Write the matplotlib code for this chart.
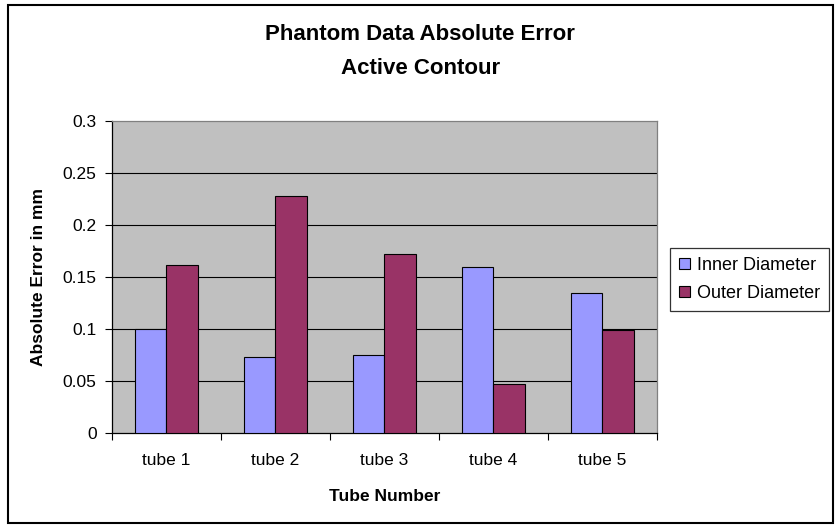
import matplotlib
matplotlib.use("Agg")
import matplotlib.pyplot as plt
import numpy as np
from matplotlib.patches import Rectangle

categories = ["tube 1", "tube 2", "tube 3", "tube 4", "tube 5"]
inner_diameter = [0.100, 0.073, 0.075, 0.160, 0.135]
outer_diameter = [0.162, 0.228, 0.172, 0.047, 0.099]
y_ticks = [0, 0.05, 0.1, 0.15, 0.2, 0.25, 0.3]

plt.rcParams["font.family"] = ["Liberation Sans", "DejaVu Sans"]

fig = plt.figure(figsize=(8.37, 5.25), dpi=100)
ax = fig.add_axes([112 / 837, 1 - 433.3 / 525, 545 / 837, 312.3 / 525])
ax.set_facecolor("#C0C0C0")

# Excel-style clustered bars, gap width 150%
n = len(categories)
centers = np.arange(n) + 0.5
w = 1 / 3.5
ax.bar(centers - w / 2, inner_diameter, width=w, color="#9999FF",
       edgecolor="black", linewidth=0.8, label="Inner Diameter", zorder=3)
ax.bar(centers + w / 2, outer_diameter, width=w, color="#993366",
       edgecolor="black", linewidth=0.8, label="Outer Diameter", zorder=3)

ax.set_xlim(0, n)
ax.set_ylim(0, 0.3)
ax.set_yticks(y_ticks)
ax.set_yticklabels([f"{v:g}" for v in y_ticks])
for v in y_ticks[1:-1]:
    ax.axhline(v, color="black", linewidth=0.8, zorder=1)

# tick marks on category boundaries, labels at centers
ax.set_xticks(np.arange(n + 1))
ax.set_xticklabels([])
ax.set_xticks(centers, minor=True)
ax.set_xticklabels(categories, minor=True)
ax.tick_params(axis="x", which="major", direction="out", length=5, width=0.8)
ax.tick_params(axis="x", which="minor", length=0, labelsize=12.5, pad=14)
ax.tick_params(axis="y", direction="out", length=5, width=0.8, labelsize=12.5, pad=6)

for s in ["left", "bottom"]:
    ax.spines[s].set_color("black")
    ax.spines[s].set_linewidth(0.9)
for s in ["top", "right"]:
    ax.spines[s].set_color("#808080")
    ax.spines[s].set_linewidth(0.9)

ax.set_xlabel("Tube Number", fontsize=12.5, fontweight="bold", labelpad=15)
ax.set_ylabel("Absolute Error in mm", fontsize=12.5, fontweight="bold", labelpad=12)

fig.text(0.502, 1 - 51.5 / 525, "Phantom Data Absolute Error\nActive Contour",
         ha="center", va="center", fontsize=16, fontweight="bold", linespacing=1.8)

leg = fig.legend(loc="upper left", bbox_to_anchor=(670 / 837, 1 - 248 / 525),
                 fontsize=13, frameon=True, fancybox=False, edgecolor="black",
                 handlelength=0.6, handleheight=0.6, handletextpad=0.4,
                 borderpad=0.5, labelspacing=0.6, borderaxespad=0)
leg.get_frame().set_linewidth(0.9)

# outer chart border
fig.patches.append(Rectangle((8 / 837, 1 - 523 / 525), 825 / 837, 518 / 525,
                             transform=fig.transFigure, fill=False,
                             edgecolor="black", linewidth=1.5))

fig.savefig("out.png", dpi=100)
plt.close(fig)
